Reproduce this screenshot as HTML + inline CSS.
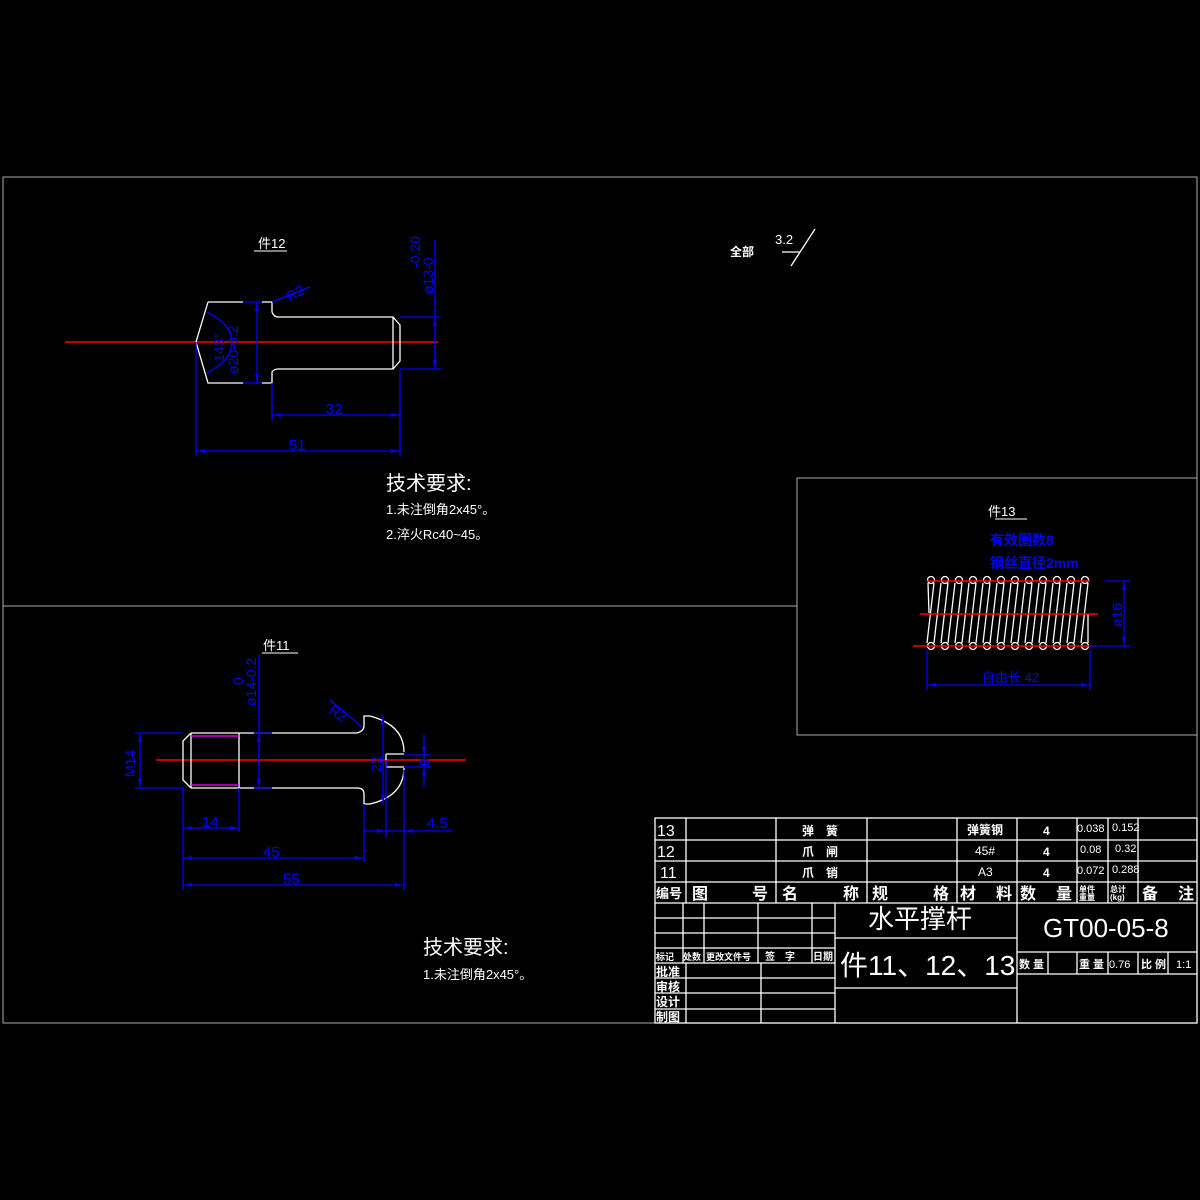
<!DOCTYPE html>
<html><head><meta charset="utf-8"><style>
html,body{margin:0;padding:0;background:#000;width:1200px;height:1200px;overflow:hidden}
svg{display:block}
text{font-family:"Liberation Sans","Noto Sans CJK SC",sans-serif}
.w{stroke:#fff;fill:none;stroke-width:1.3}
.b{stroke:#0000ff;fill:none;stroke-width:1.3}
.r{stroke:#ff0000;stroke-width:1.5}
.m{stroke:#ff00ff;stroke-width:1.3}
.bt{fill:#0000ff}
.wt{fill:#fff}
</style></head><body>
<svg width="1200" height="1200" viewBox="0 0 1200 1200" xmlns="http://www.w3.org/2000/svg">
<rect x="0" y="0" width="1200" height="1200" fill="#000"/>
<rect x="3" y="177" width="1194" height="846" fill="none" stroke="#aaa" stroke-width="1"/>
<line x1="3" y1="606" x2="797" y2="606" stroke="#aaa"/>
<rect x="797" y="478" width="400" height="257" fill="none" stroke="#aaa"/>

<!-- Part 12 -->
<text x="258" y="248" class="wt" font-size="13">件12</text>
<line x1="254" y1="251" x2="287" y2="251" stroke="#fff"/>
<line x1="65" y1="342" x2="438" y2="342" class="r"/>
<path class="b" d="M257,302 L257,383 M243,302 L262,302 M243,383 L262,383"/>
<path class="w" d="M208,302 L196,342 L208,383 L243,383 M262,383 L272,383 L272,372 Q274,369 278,369 L393,369 L400,361 L400,325 L393,317 L278,317 Q274,317 272,312 L272,302 L262,302 M243,302 L208,302 M393,317 L393,369"/>
<path class="b" d="M207,312 Q232,325 232,342 Q232,360 207,373"/>
<text transform="translate(238,374) rotate(-90)" class="bt" font-size="14">ø20-0.2</text>
<text transform="translate(224,362) rotate(-90)" class="bt" font-size="14">143°</text>
<path class="b" d="M272,302 L310,287"/>
<text transform="translate(290,302) rotate(-30)" class="bt" font-size="14">R2</text>
<path class="b" d="M272,383 L272,421 M272,415 L400,415 M196,342 L196,456 M400,369 L400,456 M196,451 L400,451"/>
<text x="326" y="414" class="bt" font-size="15">32</text>
<text x="289" y="450" class="bt" font-size="15">51</text>
<path class="b" d="M400,317 L441,317 M400,369 L441,369 M435,240 L435,369"/>
<text transform="translate(433,294) rotate(-90)" class="bt" font-size="14">ø13-0</text>
<text transform="translate(420,268) rotate(-90)" class="bt" font-size="14">-0.20</text>
<g class="bt"><path d="M197,451 l8,-2 v4z M399,451 l-8,-2 v4z M273,415 l8,-2 v4z M399,415 l-8,-2 v4z M435,318 l-2,8 h4z M435,368 l-2,-8 h4z M257,303 l-2,8 h4z M257,382 l-2,-8 h4z"/></g>
<text x="730" y="256" class="wt" font-size="12" font-weight="bold">全部</text>
<text x="775" y="244" class="wt" font-size="13">3.2</text>
<path class="w" d="M782,252 L800,252 L791,266 L815,229"/>
<text x="386" y="490" class="wt" font-size="20">技术要求:</text>
<text x="386" y="514" class="wt" font-size="13">1.未注倒角2x45°。</text>
<text x="386" y="539" class="wt" font-size="13">2.淬火Rc40~45。</text>

<!-- Part 11 -->
<text x="263" y="650" class="wt" font-size="13">件11</text>
<line x1="262" y1="653" x2="298" y2="653" stroke="#fff"/>
<line x1="156" y1="760" x2="466" y2="760" class="r"/>
<path class="w" d="M191,733 L357,733 Q364,731 364,726 L364,716 L370,716 Q404,725 404,752 M404,768 Q404,796 370,804 L364,804 L364,794 Q364,788 357,788 L191,788 L183,780 L183,741 L191,733 M191,733 L191,788 M239,733 L239,788 M386,754 L404,754 M386,754 L386,767 L404,767"/>
<path class="m" d="M191,736 L239,736 M191,785 L239,785"/>
<path class="b" d="M135,733 L183,733 M135,788 L183,788 M140,733 L140,788"/>
<text transform="translate(135,777) rotate(-90)" class="bt" font-size="14">M14</text>
<path class="b" d="M259,655 L259,788 M254,733 L272,733 M254,788 L272,788"/>
<text transform="translate(256,706) rotate(-90)" class="bt" font-size="14">ø14-0.2</text>
<text transform="translate(243,685) rotate(-90)" class="bt" font-size="14">0</text>
<path class="b" d="M383,716 L383,804 M424,735 L424,787 M404,755 L431,755 M404,767 L431,767"/>
<text transform="translate(381,772) rotate(-90)" class="bt" font-size="14">22</text>
<text transform="translate(429,766) rotate(-90)" class="bt" font-size="14">8</text>
<path class="b" d="M330,700 L362,727"/>
<text transform="translate(328,712) rotate(35)" class="bt" font-size="14">R2</text>
<path class="b" d="M183,788 L183,890 M239,788 L239,832 M364,804 L364,862 M386,760 L386,838 M404,770 L404,890 M183,828 L239,828 M183,858 L364,858 M183,885 L404,885 M364,831 L452,831"/>
<text x="202" y="827" class="bt" font-size="15">14</text>
<text x="263" y="857" class="bt" font-size="15">45</text>
<text x="283" y="884" class="bt" font-size="15">55</text>
<text x="427" y="828" class="bt" font-size="15">4.5</text>
<g class="bt"><path d="M184,828 l8,-2 v4z M238,828 l-8,-2 v4z M184,858 l8,-2 v4z M363,858 l-8,-2 v4z M184,885 l8,-2 v4z M403,885 l-8,-2 v4z M385,831 l-8,-2 v4z M405,831 l8,-2 v4z M140,734 l-2,8 h4z M140,787 l-2,-8 h4z M259,734 l-2,8 h4z M259,787 l-2,-8 h4z M383,717 l-2,8 h4z M383,803 l-2,-8 h4z M424,755 l-2,-8 h4z M424,767 l-2,8 h4z"/></g>
<text x="423" y="954" class="wt" font-size="20">技术要求:</text>
<text x="423" y="979" class="wt" font-size="13">1.未注倒角2x45°。</text>

<!-- Part 13 spring -->
<text x="988" y="516" class="wt" font-size="13">件13</text>
<line x1="995" y1="519" x2="1027" y2="519" stroke="#fff"/>
<text x="990" y="545" class="bt" font-size="14" font-weight="bold">有效圈数8</text>
<text x="990" y="568" class="bt" font-size="14" font-weight="bold">钢丝直径2mm</text>
<g class="w" stroke-width="1">
<circle cx="931" cy="580" r="3.5"/><circle cx="945" cy="580" r="3.5"/><circle cx="959" cy="580" r="3.5"/><circle cx="973" cy="580" r="3.5"/><circle cx="987" cy="580" r="3.5"/><circle cx="1001" cy="580" r="3.5"/><circle cx="1015" cy="580" r="3.5"/><circle cx="1029" cy="580" r="3.5"/><circle cx="1043" cy="580" r="3.5"/><circle cx="1057" cy="580" r="3.5"/><circle cx="1071" cy="580" r="3.5"/><circle cx="1085" cy="580" r="3.5"/>
<circle cx="931" cy="646" r="3.5"/><circle cx="945" cy="646" r="3.5"/><circle cx="959" cy="646" r="3.5"/><circle cx="973" cy="646" r="3.5"/><circle cx="987" cy="646" r="3.5"/><circle cx="1001" cy="646" r="3.5"/><circle cx="1015" cy="646" r="3.5"/><circle cx="1029" cy="646" r="3.5"/><circle cx="1043" cy="646" r="3.5"/><circle cx="1057" cy="646" r="3.5"/><circle cx="1071" cy="646" r="3.5"/><circle cx="1085" cy="646" r="3.5"/>
<path d="M928,583 L929,613 M934,583 L927,643 M941,583 L934,643 M948,583 L941,643 M955,583 L948,643 M962,583 L955,643 M969,583 L962,643 M976,583 L969,643 M983,583 L976,643 M990,583 L983,643 M997,583 L990,643 M1004,583 L997,643 M1011,583 L1004,643 M1018,583 L1011,643 M1025,583 L1018,643 M1032,583 L1025,643 M1039,583 L1032,643 M1046,583 L1039,643 M1053,583 L1046,643 M1060,583 L1053,643 M1067,583 L1060,643 M1074,583 L1067,643 M1081,583 L1074,643 M1088,583 L1081,643 M1088,614 L1088,643"/>
</g>
<line x1="927" y1="581" x2="1090" y2="581" class="r"/>
<line x1="920" y1="614" x2="1098" y2="614" class="r"/>
<line x1="913" y1="646" x2="1090" y2="646" class="r"/>
<path class="b" d="M1105,581 L1130,581 M1090,646 L1130,646 M1124,581 L1124,646 M927,650 L927,690 M1090,650 L1090,690 M927,685 L1090,685"/>
<text transform="translate(1122,627) rotate(-90)" class="bt" font-size="14">ø16</text>
<text x="982" y="682" class="bt" font-size="13">自由长 42</text>
<g class="bt"><path d="M1124,582 l-2,8 h4z M1124,645 l-2,-8 h4z M928,685 l8,-2 v4z M1089,685 l-8,-2 v4z"/></g>

<!-- Title block -->
<g class="w" stroke-width="1.2">
<rect x="655" y="818" width="542" height="205"/>
<path d="M655,840 L1197,840 M655,861 L1197,861 M655,882 L1197,882 M655,903 L1197,903"/>
<path d="M686,818 V903 M776,818 V903 M867,818 V903 M957,818 V903 M1017,818 V1023 M1077,818 V903 M1108,818 V903 M1138,818 V903"/>
<path d="M835,903 V1023 M835,938 H1017 M835,988 H1017 M1017,952 H1197 M1017,974 H1197 M1048,952 V974 M1077,952 V974 M1108,952 V974 M1138,952 V974 M1168,952 V974"/>
<path d="M655,918 H835 M655,933 H835 M655,948 H835 M655,963 H835 M655,978 H835 M655,993 H835 M655,1009 H835"/>
<path d="M683,903 V963 M704,903 V963 M758,903 V963 M812,903 V963 M686,963 V1023 M761,963 V1023"/>
</g>
<g class="wt">
<text x="657" y="836" font-size="16">13</text>
<text x="657" y="857" font-size="16">12</text>
<text x="660" y="878" font-size="16">11</text>
<text x="802" y="835" font-size="12" font-weight="bold">弹　簧</text>
<text x="802" y="856" font-size="12" font-weight="bold">爪　闸</text>
<text x="802" y="877" font-size="12" font-weight="bold">爪　销</text>
<text x="967" y="834" font-size="12" font-weight="bold">弹簧钢</text>
<text x="975" y="855" font-size="12">45#</text>
<text x="978" y="876" font-size="12">A3</text>
<text x="1043" y="835" font-size="12" font-weight="bold">4</text>
<text x="1043" y="856" font-size="12" font-weight="bold">4</text>
<text x="1043" y="877" font-size="12" font-weight="bold">4</text>
<text x="1077" y="832" font-size="11">0.038</text>
<text x="1080" y="853" font-size="11">0.08</text>
<text x="1077" y="874" font-size="11">0.072</text>
<text x="1112" y="831" font-size="11">0.152</text>
<text x="1115" y="852" font-size="11">0.32</text>
<text x="1112" y="873" font-size="11">0.288</text>
<text x="656" y="898" font-size="13" font-weight="bold">编号</text>
<text x="692" y="899" font-size="16" font-weight="bold">图</text>
<text x="752" y="899" font-size="16" font-weight="bold">号</text>
<text x="782" y="899" font-size="16" font-weight="bold">名</text>
<text x="843" y="899" font-size="16" font-weight="bold">称</text>
<text x="872" y="899" font-size="16" font-weight="bold">规</text>
<text x="933" y="899" font-size="16" font-weight="bold">格</text>
<text x="960" y="899" font-size="16" font-weight="bold">材</text>
<text x="996" y="899" font-size="16" font-weight="bold">料</text>
<text x="1020" y="899" font-size="16" font-weight="bold">数</text>
<text x="1056" y="899" font-size="16" font-weight="bold">量</text>
<text x="1079" y="892" font-size="8" font-weight="bold">单件</text>
<text x="1079" y="900" font-size="8" font-weight="bold">重量</text>
<text x="1110" y="892" font-size="8" font-weight="bold">总计</text>
<text x="1110" y="900" font-size="8" font-weight="bold">(kg)</text>
<text x="1142" y="899" font-size="16" font-weight="bold">备</text>
<text x="1178" y="899" font-size="16" font-weight="bold">注</text>
<text x="868" y="928" font-size="26">水平撑杆</text>
<text x="1043" y="937" font-size="26" font-family="Liberation Serif,serif">GT00-05-8</text>
<text x="840" y="975" font-size="28" font-family="Liberation Serif,'Noto Serif CJK SC',serif">件11、12、13</text>
<text x="656" y="960" font-size="9" font-weight="bold">标记</text>
<text x="683" y="960" font-size="9" font-weight="bold">处数</text>
<text x="706" y="960" font-size="9" font-weight="bold">更改文件号</text>
<text x="765" y="960" font-size="10" font-weight="bold">签　字</text>
<text x="813" y="960" font-size="10" font-weight="bold">日期</text>
<text x="656" y="976" font-size="12" font-weight="bold">批准</text>
<text x="656" y="991" font-size="12" font-weight="bold">审核</text>
<text x="656" y="1006" font-size="12" font-weight="bold">设计</text>
<text x="656" y="1021" font-size="12" font-weight="bold">制图</text>
<text x="1019" y="968" font-size="11" font-weight="bold">数 量</text>
<text x="1079" y="968" font-size="11" font-weight="bold">重 量</text>
<text x="1109" y="968" font-size="11">0.76</text>
<text x="1141" y="968" font-size="11" font-weight="bold">比 例</text>
<text x="1176" y="968" font-size="11">1:1</text>
</g>
</svg>
</body></html>
